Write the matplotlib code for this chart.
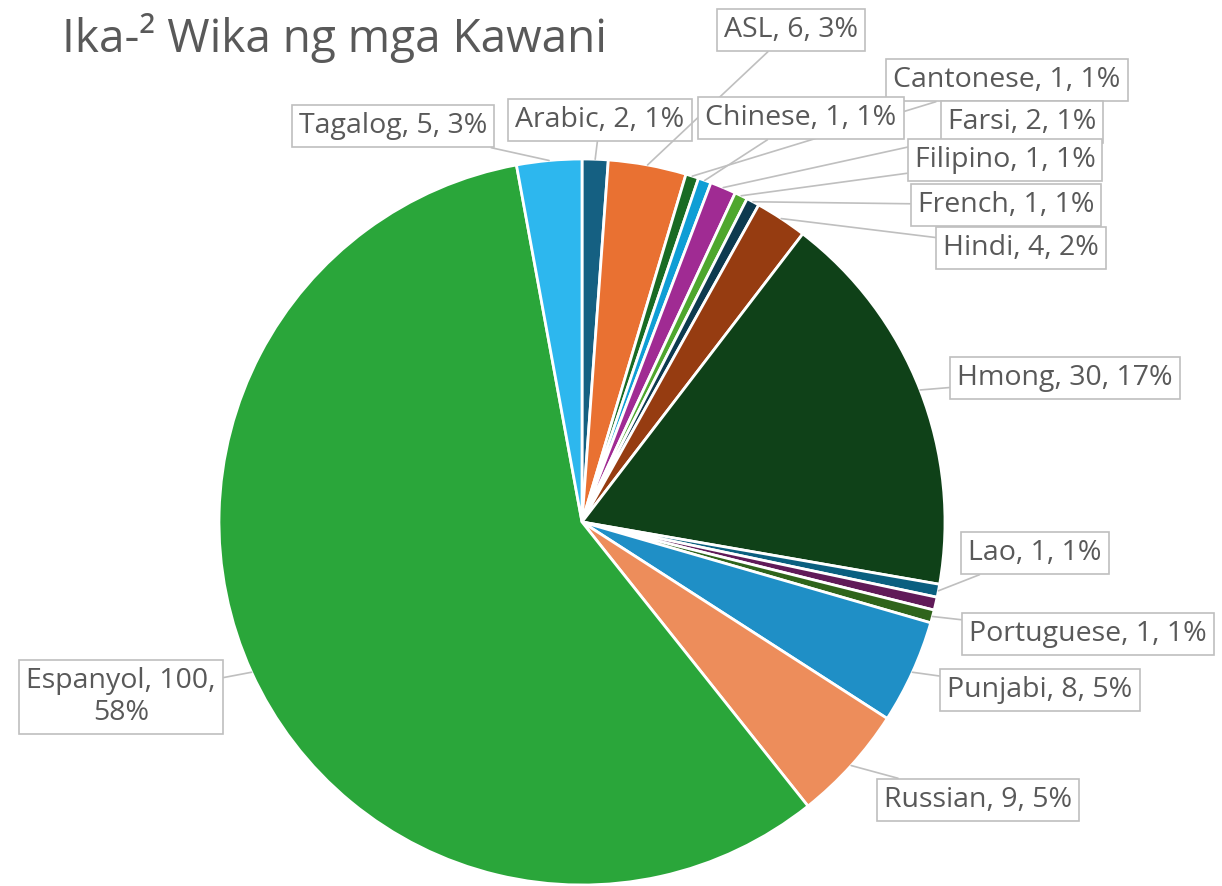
import matplotlib.pyplot as plt
import numpy as np

plt.rcParams['font.family'] = ['Open Sans', 'DejaVu Sans']

# data, clockwise from 12 o'clock
languages = ['Arabic', 'ASL', 'Cantonese', 'Chinese', 'Farsi', 'Filipino', 'French',
             'Hindi', 'Hmong', 'Lao', None, 'Portuguese', 'Punjabi', 'Russian',
             'Espanyol', 'Tagalog']
counts = [2, 6, 1, 1, 2, 1, 1, 4, 30, 1, 1, 1, 8, 9, 100, 5]
colors = ['#156082', '#E97132', '#196B24', '#0F9ED5', '#A02B93', '#4EA72E', '#0D3A4F',
          '#963C11', '#0F4118', '#0A5F80', '#601A58', '#2F641B', '#1F8FC6', '#ED8D5B',
          '#2AA63A', '#2DB7EE']

# label box centres in pixels (top-left origin)
label_pos = {
    'Arabic': (600, 120), 'ASL': (791, 30), 'Cantonese': (1007, 80),
    'Chinese': (801, 118), 'Farsi': (1022, 122), 'Filipino': (1005, 160),
    'French': (1006, 205), 'Hindi': (1021, 248), 'Hmong': (1065, 378),
    'Lao': (1035, 553), 'Portuguese': (1088, 634), 'Punjabi': (1040, 690),
    'Russian': (978, 800), 'Espanyol': (121, 697), 'Tagalog': (393, 126),
}

W, H = 1222, 886
fig = plt.figure(figsize=(W / 100, H / 100), dpi=100)
ax = fig.add_axes([0, 0, 1, 1])

cx, cy, r = 582, H - 522, 363
wedges, _ = ax.pie(counts, colors=colors, startangle=90, counterclock=False,
                   center=(cx, cy), radius=r, frame=True,
                   wedgeprops=dict(edgecolor='white', linewidth=2))
ax.set_xlim(0, W)
ax.set_ylim(0, H)
ax.set_aspect('equal')
ax.axis('off')

total = sum(counts)
text_col = '#595959'
line_col = '#BFBFBF'
for w, name, v in zip(wedges, languages, counts):
    if name is None:
        continue
    pct = round(100 * v / total)
    if name == 'Espanyol':
        txt = f'{name}, {v},\n{pct}%'
    else:
        txt = f'{name}, {v}, {pct}%'
    mid = np.deg2rad((w.theta1 + w.theta2) / 2)
    px, py = cx + r * np.cos(mid), cy + r * np.sin(mid)
    lx, ly = label_pos[name]
    ax.annotate(txt, xy=(px, py), xytext=(lx, H - ly), ha='center', va='center',
                multialignment='center', fontsize=20.5, color=text_col,
                linespacing=1.2,
                bbox=dict(boxstyle='square,pad=0.25', fc='white', ec=line_col, lw=1.2),
                arrowprops=dict(arrowstyle='-', color=line_col, lw=1.2,
                                shrinkA=0, shrinkB=0))

fig.text(62 / W, 1 - 38 / H, 'Ika-² Wika ng mga Kawani', fontsize=33, color=text_col,
         ha='left', va='center')

fig.savefig('out.png', dpi=100)
